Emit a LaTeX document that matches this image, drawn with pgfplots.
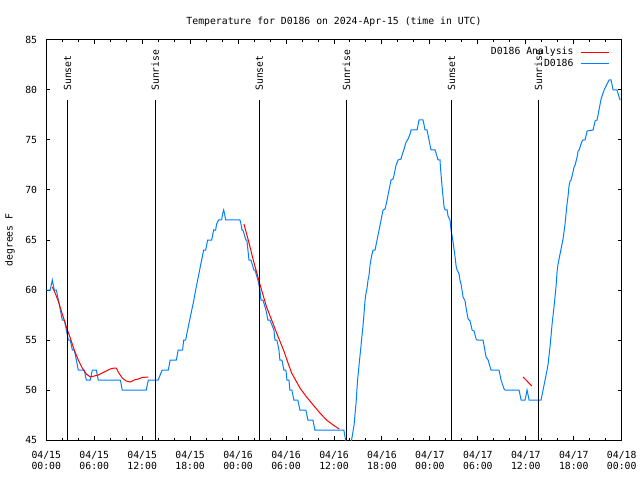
\documentclass[border=0pt]{standalone}
\usepackage{fontspec}
\setmainfont{DejaVu Sans Mono}
\usepackage{pgfplots}
\pgfplotsset{compat=1.18}
\definecolor{dblue}{RGB}{0,128,255}
\definecolor{dred}{RGB}{255,0,0}
\begin{document}
\fontsize{9.8}{12}\selectfont
\begin{tikzpicture}[x=1pt,y=1pt]
\path[use as bounding box] (-46.3,-40) rectangle (593.7,440);
\begin{axis}[
  at={(0,0)}, anchor=south west,
  scale only axis, width=575.4pt, height=400pt,
  xmin=0, xmax=72, ymin=45, ymax=85,
  xtick={0,6,...,72},
  xticklabels={{04/15\\00:00},{04/15\\06:00},{04/15\\12:00},{04/15\\18:00},{04/16\\00:00},{04/16\\06:00},{04/16\\12:00},{04/16\\18:00},{04/17\\00:00},{04/17\\06:00},{04/17\\12:00},{04/17\\18:00},{04/18\\00:00}},
  minor x tick num=2,
  ytick={45,50,...,85},
  yticklabels={45,50,55,60,65,70,75,80,85},
  major tick length=4pt, minor tick length=2.5pt,
  tick style={black, line width=1pt},
  axis line style={line width=1pt},
  xticklabel style={align=center, font=\fontsize{9.8}{11.5}\selectfont, yshift=-7.5pt},
  yticklabel style={xshift=-5.7pt},
  every axis title/.style={at={(axis description cs:0.5,1.045)}, anchor=center},
  title={Temperature for D0186 on 2024-Apr-15 (time in UTC)},
  every axis y label/.style={at={(axis description cs:-0.0631,0.5)}, rotate=90, anchor=center},
  ylabel={degrees F},
  unbounded coords=jump,
  clip=true,
  reverse legend,
  legend plot pos=right,
  legend cell align=right,
  legend style={at={(axis description cs:0.9837,0.989)}, anchor=north east, draw=none, fill=none,
    column sep=5.5pt, row sep=0.6pt, nodes={inner sep=1pt, text height=7pt, text depth=2pt}},
]
\addplot[dblue, line width=1pt, legend image code/.code={\draw[dblue, line width=1.1pt] (0pt,0pt) -- (28pt,0pt);}] coordinates {
(0,60)(0.5,60)(0.62,60.5)(0.75,61)(0.87,60.5)(1.0,60)(1.26,60)(1.51,59)(1.76,58)(2.0,57)(2.26,57)(2.51,56)(2.76,55)(3.0,55)(3.26,54)(3.5,54)(3.76,53)(4.0,52)(4.76,52)(5.0,51)(5.5,51)(5.76,52)(6.26,52)(6.5,51)(9.27,51)(9.5,50)(12.5,50)(12.77,51)(14.0,51)(14.5,52)(15.27,52)(15.5,53)(16.27,53)(16.5,54)(17.06,54)(17.19,55)(17.44,55)
(17.56,55.5)(17.81,56.5)(18.44,58.9)(18.69,60)(18.94,61)(19.19,62)(19.44,63)(19.69,64)(19.94,64)(20.19,65)(20.69,65)(20.94,66)(21.19,66)(21.31,66.6)(21.56,67)(21.94,67)(22.06,67.6)(22.19,68)(22.31,67.6)(22.44,67)(24.23,67)
(24.36,66.6)(24.48,66)(24.6,66)(24.98,65)(25.1,65)(25.23,64)(25.36,63)(25.61,63)(25.98,62)(26.11,62)(26.48,61)(26.73,60)(26.86,59)(27.11,59)(27.48,58)(27.73,57)(27.98,57)(28.48,56)(28.61,55)(28.86,55)(29.11,54)(29.23,53)(29.48,53)(29.73,52)(29.98,52)(30.11,51)(30.36,51)(30.48,50)(30.73,50)(30.98,49)(31.48,49)(31.73,48)(32.48,48)(32.73,47)(33.36,47)(33.61,46)(37.23,46)(37.45,45)(37.6,44)(38.0,44)(38.2,45)
(38.51,46.5)(38.76,48.7)(38.89,50.3)(39.01,51.5)(39.26,53.5)(39.39,54.5)(39.51,55.5)(39.64,56.5)(39.76,57.7)(39.89,59)(40.01,59.7)(40.14,60.2)(40.26,61)(40.39,61.5)(40.51,62.5)(40.64,63.1)(40.76,63.6)(40.89,64)(41.14,64)(41.26,64.5)(41.39,65)(41.51,65.5)(41.64,66)(41.76,66.5)(41.89,67)(42.01,67.5)(42.14,68)(42.39,68.1)(42.51,68.5)(42.64,69)(42.76,69.5)(42.89,70)(43.01,70.5)(43.14,71)(43.39,71.1)(43.52,71.5)(43.64,72)(43.77,72.5)(44.02,73)(44.39,73.1)(44.52,73.5)(44.64,73.8)(44.77,74.1)(45.02,74.8)(45.27,75.1)(45.52,75.6)(45.64,76)(46.39,76)(46.52,76.5)(46.64,77)(47.14,77)(47.27,76.5)(47.39,76)(47.64,76)(47.89,75)(48.14,74)(48.65,74)(49.02,73)(49.27,73)
(49.3,72.5)(49.45,71)(49.6,69.7)(49.77,68.3)(49.9,68)(50.15,68)(50.27,67.4)(50.52,67)(50.65,66)(50.78,65.4)(50.9,64.8)(51.15,63.3)(51.28,62.4)(51.4,62)(51.65,61.6)(51.78,60.9)(51.9,60.6)(52.15,59.3)(52.4,58.9)(52.53,58.2)(52.78,57.1)(53.03,56.9)(53.28,56)(53.53,55.9)(53.78,55.1)(53.9,55)(54.65,55)(55.03,53.3)(55.28,53)(55.65,52)(56.65,52)(56.9,51)(57.28,50.1)(57.4,50)(59.16,50)(59.41,49)(59.91,49)(60.16,50)(60.41,49)(61.91,49)(62.41,51)(62.66,52)(62.79,52.6)(63.04,54.4)(63.29,56.6)(63.54,58.4)(63.79,60.4)(63.91,61.8)(64.04,62.6)(64.16,63.1)(64.41,64.1)(64.66,65.1)(64.91,66.6)(65.16,68.6)(65.29,69.4)(65.41,70.4)(65.54,70.9)(65.66,71)(65.79,71.4)(66.04,72.3)(66.17,72.5)(66.42,73.3)(66.54,73.9)(66.67,74)(67.04,74.9)(67.17,75)(67.42,75)(67.67,75.9)(68.42,76)(68.67,76.9)(68.92,77)(69.42,79.1)(69.8,80)(70.3,80.8)(70.42,81)(70.67,81)(70.92,80)(71.42,80)(71.67,79.3)(71.8,79)
};
\addlegendentry{D0186}
\addplot[dred, line width=1pt, legend image code/.code={\draw[dred, line width=1.1pt] (0pt,0pt) -- (28pt,0pt);}] coordinates {
(0.75,60.3)(1.0,59.9)(1.5,58.9)(2.0,57.6)(2.6,56.1)(3.0,55.2)(3.5,54.0)(4.0,53.0)(4.5,52.2)(5.0,51.6)(5.5,51.3)(6.0,51.4)(6.5,51.5)(7.0,51.7)(7.5,51.9)(8.0,52.1)(8.5,52.2)(8.75,52.2)(9.0,51.8)(9.5,51.2)(10.0,50.9)(10.5,50.8)(11.0,51.0)(11.5,51.1)(12.0,51.25)(12.77,51.3)
(13,nan)
(24.73,66.6)(25.27,65.0)(25.9,63.0)(26.65,60.8)(27.56,58.3)(28.2,57.0)(28.82,55.7)(29.78,53.8)(30.2,52.8)(30.7,51.7)(31.74,50.2)(32.57,49.3)(33.4,48.5)(34.24,47.7)(35.07,47.0)(35.9,46.5)(36.65,46.1)
(40,nan)
(59.66,51.3)(60.75,50.4)
};
\addlegendentry{D0186 Analysis}
\foreach \h/\t in {2.65/Sunset,13.62/Sunrise,26.66/Sunset,37.55/Sunrise,50.72/Sunset,61.58/Sunrise}{
  \edef\temp{\noexpand\draw[black, line width=1pt] (axis cs:\h,45) -- (axis cs:\h,79);
    \noexpand\node[rotate=90, anchor=west, inner sep=0pt] at (axis cs:\h,79.9) {\t};}
  \temp
}
\end{axis}
\end{tikzpicture}
\end{document}
